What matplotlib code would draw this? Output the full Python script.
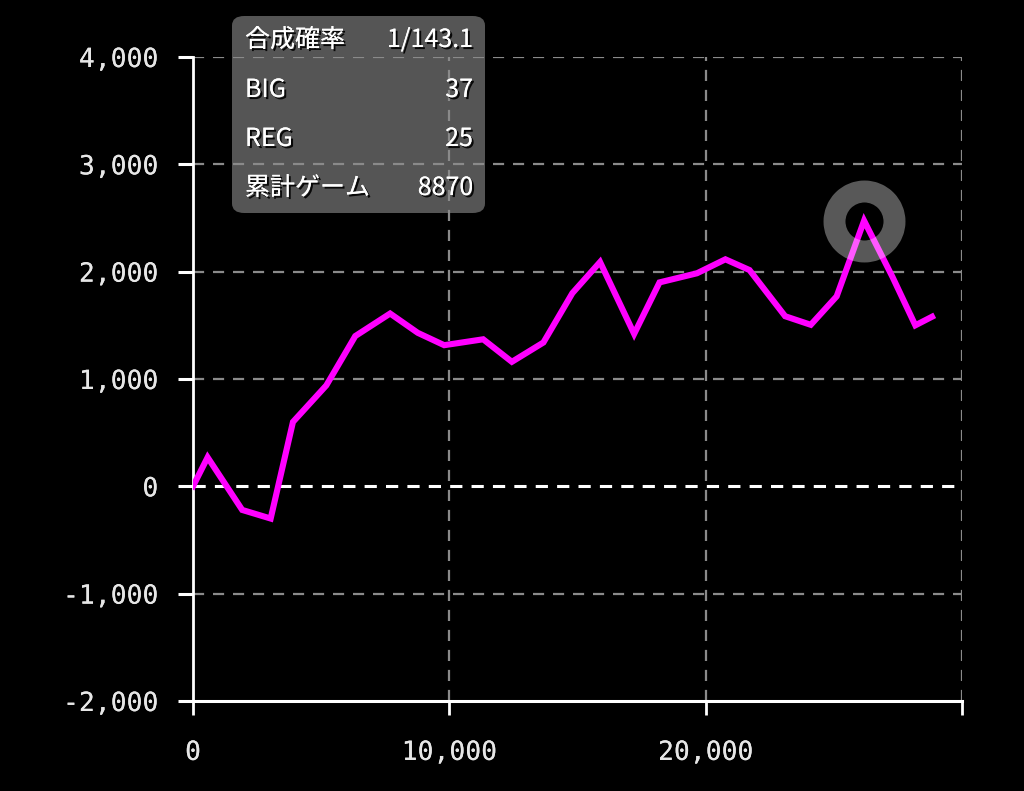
import matplotlib
matplotlib.use("Agg")
import matplotlib.pyplot as plt
import matplotlib.patheffects as pe
from matplotlib.patches import FancyBboxPatch

# cumulative games vs. balance
games = [0, 570, 1920, 3030, 3900, 5200, 6330, 7690, 8770, 9800, 11320, 12440,
         13670, 14800, 15880, 17210, 18200, 19660, 20770, 21710, 23100, 24100,
         25110, 26180, 27290, 28180, 28830]
balance = [0, 270, -220, -300, 600, 940, 1400, 1610, 1430, 1315, 1370, 1160,
           1340, 1800, 2090, 1420, 1900, 1985, 2115, 2015, 1585, 1505,
           1770, 2475, 1950, 1500, 1580]

y_ticks = [-2000, -1000, 0, 1000, 2000, 3000, 4000]
x_ticks = [0, 10000, 20000, 30000]
x_tick_labels = ["0", "10,000", "20,000", ""]

info_labels = ["合成確率", "BIG", "REG", "累計ゲーム"]
info_values = ["1/143.1", "37", "25", "8870"]

shadow = [pe.withSimplePatchShadow(offset=(1.5, -1.5), shadow_rgbFace="black", alpha=0.9), pe.Normal()]

fig = plt.figure(figsize=(10.24, 7.91), dpi=100, facecolor="black")
ax = fig.add_axes([193 / 1024, 90 / 791, 769 / 1024, 644 / 791])
ax.set_facecolor("none")

ax.set_xlim(0, 30000)
ax.set_ylim(-2000, 4000)

# grid lines
for yv in y_ticks[1:]:
    if yv == 0:
        ax.axhline(yv, color="white", lw=2.2, ls=(0, (4, 3)), zorder=1)
    else:
        ax.axhline(yv, color="#8a8a8a", lw=1.6, ls=(0, (5, 4)), zorder=1)
for xv in x_ticks[1:]:
    ax.axvline(xv, color="#8a8a8a", lw=1.6, ls=(0, (5, 4)), zorder=1)

ax.plot(games, balance, color="#ff00ff", lw=4.4, zorder=3, solid_joinstyle="miter")

# highlight ring at the peak
i_max = balance.index(max(balance))
ax.plot([games[i_max]], [balance[i_max]], marker="o", ms=43.2, mfc="none",
        mec="white", mew=15.8, alpha=0.35, zorder=4, clip_on=False)

for side in ["top", "right"]:
    ax.spines[side].set_visible(False)
ax.spines["left"].set_color("white")
ax.spines["left"].set_linewidth(2)
ax.spines["bottom"].set_color("white")
ax.spines["bottom"].set_linewidth(2.2)

ax.set_yticks(y_ticks)
ax.set_yticklabels([f"{v:,}" for v in y_ticks])
ax.set_xticks(x_ticks)
ax.set_xticklabels(x_tick_labels)
ax.tick_params(axis="y", colors="white", length=11, width=2.2, pad=14,
               labelcolor="#e6e6e6", labelsize=19)
ax.tick_params(axis="x", colors="white", length=10, width=2, pad=18,
               labelcolor="#e6e6e6", labelsize=19)
for lab in ax.get_xticklabels() + ax.get_yticklabels():
    lab.set_family("DejaVu Sans Mono")
    lab.set_path_effects(shadow)

# info box (figure coords)
W, H = 1024, 791
box = FancyBboxPatch((232 / W, 1 - 213 / H), (485 - 232) / W, (213 - 16) / H,
                     boxstyle="round,pad=0,rounding_size=0.012",
                     transform=fig.transFigure, facecolor="#555555",
                     edgecolor="none", zorder=-1)
fig.patches.append(box)

row_y = [40, 90, 139, 188]
for lab, val, ry in zip(info_labels, info_values, row_y):
    fig.text(245 / W, 1 - ry / H, lab, color="white", fontsize=18,
             family=["Noto Sans CJK JP", "DejaVu Sans"], va="center", ha="left",
             path_effects=shadow)
    fig.text(473 / W, 1 - ry / H, val, color="white", fontsize=18,
             family=["Noto Sans CJK JP", "DejaVu Sans"], va="center", ha="right",
             path_effects=shadow)

fig.savefig("out.png", dpi=100, facecolor="black")
